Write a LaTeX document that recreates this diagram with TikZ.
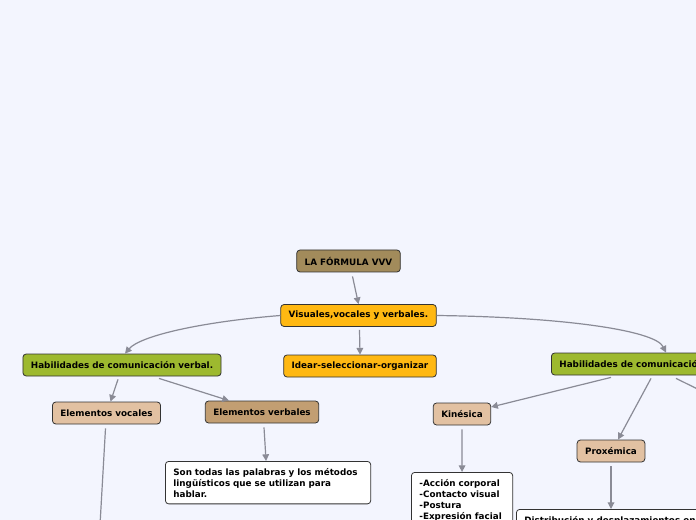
\documentclass[tikz,border=0pt]{standalone}
\usepackage{fontspec}
\setmainfont{DejaVu Sans}
\usepackage{xcolor}
\usetikzlibrary{positioning, arrows.meta, calc}
\definecolor{mapbg}{HTML}{F3F5FE}
\definecolor{mapline}{HTML}{8A8B96}
\definecolor{rootfill}{HTML}{A28B5B}
\definecolor{mainfill}{HTML}{FFB812}
\definecolor{branchfill}{HTML}{9DB92F}
\definecolor{leaffill}{HTML}{E2C1A2}
\definecolor{verbfill}{HTML}{C29E72}

\begin{document}
\begin{tikzpicture}[x=0.75pt, y=-0.75pt,
 font=\fontsize{6.6}{8.25}\selectfont\bfseries,
 bx/.style={draw=black!80, rounded corners=2.5pt, inner xsep=6pt, inner ysep=0pt, minimum height=16.5pt, line width=0.6pt},
 txt/.style={bx, fill=white, align=left, anchor=north west, inner ysep=5pt},
 link/.style={draw=mapline, line width=0.9pt, -{Triangle[length=5pt,width=5pt]}}]
\useasboundingbox (0,0) rectangle (696,520);
\clip (0,0) rectangle (696,520);
\fill[mapbg] (0,0) rectangle (696,520);

\node[bx,fill=rootfill](vvv) at (348.5,261){LA FÓRMULA VVV};
\node[bx,fill=mainfill](vis) at (358.5,315.5){Visuales,vocales y verbales.};
\node[bx,fill=mainfill](idear) at (360,366){Idear-seleccionar-organizar};
\node[bx,fill=branchfill](hverbal) at (122,365){Habilidades de comunicación verbal.};
\node[bx,fill=branchfill,anchor=west](hnoverbal) at (551,364){Habilidades de comunicación no verbal.};
\node[bx,fill=leaffill](vocales) at (106.5,413){Elementos vocales};
\node[bx,fill=verbfill](verbales) at (262,412){Elementos verbales};
\node[bx,fill=leaffill](kin) at (462,414){Kinésica};
\node[bx,fill=leaffill](prox) at (611,451){Proxémica};

\node[txt,text width=142pt](sontodas) at (165,461){Son todas las palabras y los métodos\\
lingüísticos que se utilizan para\\
hablar.};
\node[txt,text width=64pt](lista) at (411,472){-Acción corporal\\
-Contacto visual\\
-Postura\\
-Expresión facial\\
-Gestos};
\node[txt](distrib) at (516,509){Distribución y desplazamientos en el espacio};

\coordinate (vocdown) at (98,560);
\coordinate (nvright) at (720,400);

\draw[link]($(vvv.south)+(4,4)$)--(vis.north);
\draw[link]($(vis.south)+(1,3)$)--(idear.north);
\draw[link](vis.west)..controls (200,322) and (140,336)..($(hverbal.north)+(3,0)$);
\draw[link](vis.east)..controls (560,317) and (655,330)..($(hnoverbal.north west)+(115,0)$);
\draw[link]($(hverbal.south)+(-4,3)$)--($(vocales.north)+(4,0)$);
\draw[link]($(hverbal.south)+(37,2)$)--($(verbales.north)+(-33,0)$);
\draw[link]($(verbales.south)+(2,4)$)--($(sontodas.north)+(-2,0)$);
\draw[draw=mapline, line width=0.9pt]($(vocales.south)+(-1,4)$)--(vocdown);
\draw[link]($(hnoverbal.south west)+(60,2)$)--($(kin.east)+(0,-7)$);
\draw[link]($(hnoverbal.south west)+(100,3)$)--($(prox.north)+(7,0)$);
\draw[draw=mapline, line width=0.9pt]($(hnoverbal.south west)+(125,3)$)--(nvright);
\draw[link]($(kin.south)+(0,4)$)--(lista.north);
\draw[link]($(prox.south)+(0,4)$)--($(distrib.north west)+(95,0)$);
\end{tikzpicture}
\end{document}
